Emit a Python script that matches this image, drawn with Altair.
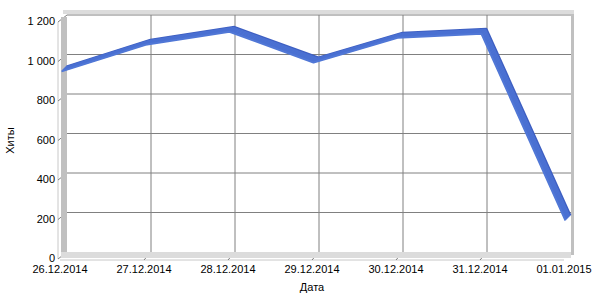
import altair as alt
import pandas as pd

dates = ["26.12.2014", "27.12.2014", "28.12.2014", "29.12.2014",
         "30.12.2014", "31.12.2014", "01.01.2015"]
hits = [945, 1080, 1145, 990, 1115, 1135, 190]
y_ticks = [0, 200, 400, 600, 800, 1000, 1200]
grid_y = [200, 400, 600, 800, 1000, 1200]
grid_x = dates[1:-1]

W, H = 504, 237
FONT = "Liberation Sans"
DEPTH = 5

xs = alt.Scale(type="point", domain=dates, padding=0)
ys = alt.Scale(domain=[0, 1200], nice=False, zero=True)

x_axis = alt.Axis(labelAngle=0, grid=False, ticks=False, translate=-7, offset=15,
                  labelPadding=4, titlePadding=7, domainColor="#c8c8c8")
y_axis = alt.Axis(values=y_ticks, labelOverlap=False, grid=False, ticks=False,
                  translate=7, offset=16, labelPadding=3, titlePadding=11,
                  domainColor="#c8c8c8",
                  labelExpr="replace(format(datum.value, ','), ',', ' ')")

def X(field):
    return alt.X(field, scale=xs, title="Дата", axis=x_axis)

def Y(field):
    return alt.Y(field, scale=ys, title="Хиты", axis=y_axis)

df = pd.DataFrame({"date": dates, "hits": hits})
gy = pd.DataFrame({"gy": grid_y})
gx = pd.DataFrame({"gx": grid_x})
ty = pd.DataFrame({"ty": y_ticks})
one = pd.DataFrame({"a": [0]})

def wall(x, x2, y, y2, color):
    return alt.Chart(one).mark_rect(color=color).encode(
        x=alt.value(x), x2=alt.value(x2), y=alt.value(y), y2=alt.value(y2))

# diagonal y ticks (front axis -> back wall)
ytick = alt.Chart(ty).mark_rule(color="#808080", yOffset=7, y2Offset=0).encode(
    y=Y("ty:Q"), y2="ty:Q", x=alt.value(-9), x2=alt.value(0))
# diagonal x ticks
xtick = alt.Chart(gx).mark_rule(color="#808080", xOffset=-7, x2Offset=0).encode(
    x=X("gx:N"), x2="gx:N", y=alt.value(H + 8), y2=alt.value(H))

left_wall = wall(-6, 0, 2, H + 4, "#c0c0c0")
floor = wall(-6, W, H, H + 6, "#dcdcdc")
right_wall = wall(W, W + 3, -4, H + 3, "#c0c0c0")
top_cap = wall(-4, W + 3, -5, -1, "#dcdcdc")

hgrid = alt.Chart(gy).mark_rule(color="#808080", strokeWidth=1).encode(
    y=Y("gy:Q"), x=alt.value(0), x2=alt.value(W))
vgrid = alt.Chart(gx).mark_rule(color="#808080", strokeWidth=1).encode(
    x=X("gx:N"), y=alt.value(0), y2=alt.value(H))

# 3D ribbon: the series line swept from the back plane toward the front plane
ribbon = []
for i in range(DEPTH + 1):
    col = "#3e5fc2" if i == 0 else ("#5077d6" if i == DEPTH else "#4a70d2")
    ribbon.append(
        alt.Chart(df).mark_line(
            color=col, strokeWidth=2, strokeJoin="bevel", strokeCap="butt",
            xOffset=-i - 0.5, yOffset=i + 1
        ).encode(x=X("date:N"), y=Y("hits:Q"))
    )

chart = alt.layer(
    ytick, xtick, hgrid, vgrid, left_wall, floor, right_wall, top_cap, *ribbon
).properties(
    width=W, height=H,
    padding={"left": 67, "top": 15, "right": 29, "bottom": 48},
    autosize="none", background="white"
).configure_view(stroke=None).configure_axis(
    labelFont=FONT, labelFontSize=11, labelColor="#000000",
    titleFont=FONT, titleFontSize=11, titleColor="#000000", titleFontWeight="normal"
)

chart.save("out.html", embed_options={"renderer": "svg", "actions": False})
